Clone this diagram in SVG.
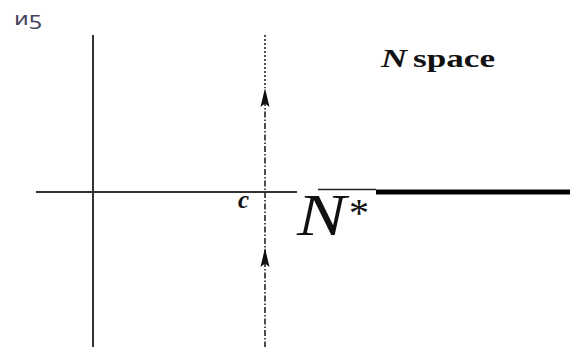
<svg xmlns="http://www.w3.org/2000/svg" width="570" height="347" viewBox="0 0 570 347">
<style>
.ax{stroke:#333;stroke-width:2;fill:none}
.dd{stroke:#222;stroke-width:1.6;fill:none;stroke-dasharray:6 2 1.5 2}
.dt{stroke:#222;stroke-width:1.6;fill:none;stroke-dasharray:2 2}
.ah{fill:#111;stroke:none}
.serif{font-family:"Liberation Serif","Times New Roman",serif;fill:#111}
</style>
<defs>
<path id="arr" d="M0,0 L4.5,19 L0,15.5 L-4.5,19 Z"/>
</defs>
<rect width="570" height="347" fill="#fff"/>
<g id="scribble">
<text x="14" y="25" font-family="DejaVu Sans, sans-serif" font-size="18" fill="#44445e" textLength="28" lengthAdjust="spacingAndGlyphs">иƽ</text>
</g>
<g id="connectors">
<line class="ax" x1="93" y1="35" x2="93" y2="347"/>
<line class="ax" x1="36" y1="192" x2="297" y2="192"/>
<line x1="318" y1="189.5" x2="376" y2="189.5" stroke="#222" stroke-width="1.3"/>
<line x1="376" y1="192" x2="570" y2="192" stroke="#000" stroke-width="5"/>
<line class="dt" x1="265" y1="35" x2="265" y2="88"/>
<line class="dd" x1="265" y1="100" x2="265" y2="347"/>
<use href="#arr" class="ah" x="265" y="88"/>
<use href="#arr" class="ah" x="265" y="248"/>
</g>
<g id="label-c">
<text class="serif" x="238" y="208" font-size="25" font-style="italic" font-weight="bold" fill="#1a1a33">c</text>
</g>
<g id="label-nstar">
<text class="serif" x="297" y="235" font-size="60" font-style="italic" textLength="49" lengthAdjust="spacingAndGlyphs">N</text>
<text class="serif" x="349" y="226" font-size="40">*</text>
</g>
<g id="label-nspace">
<text class="serif" x="381" y="67" font-size="26" font-style="italic" font-weight="bold" textLength="26" lengthAdjust="spacingAndGlyphs">N</text>
<text class="serif" x="413" y="67" font-size="25" font-weight="bold" textLength="82" lengthAdjust="spacingAndGlyphs">space</text>
</g>
</svg>
